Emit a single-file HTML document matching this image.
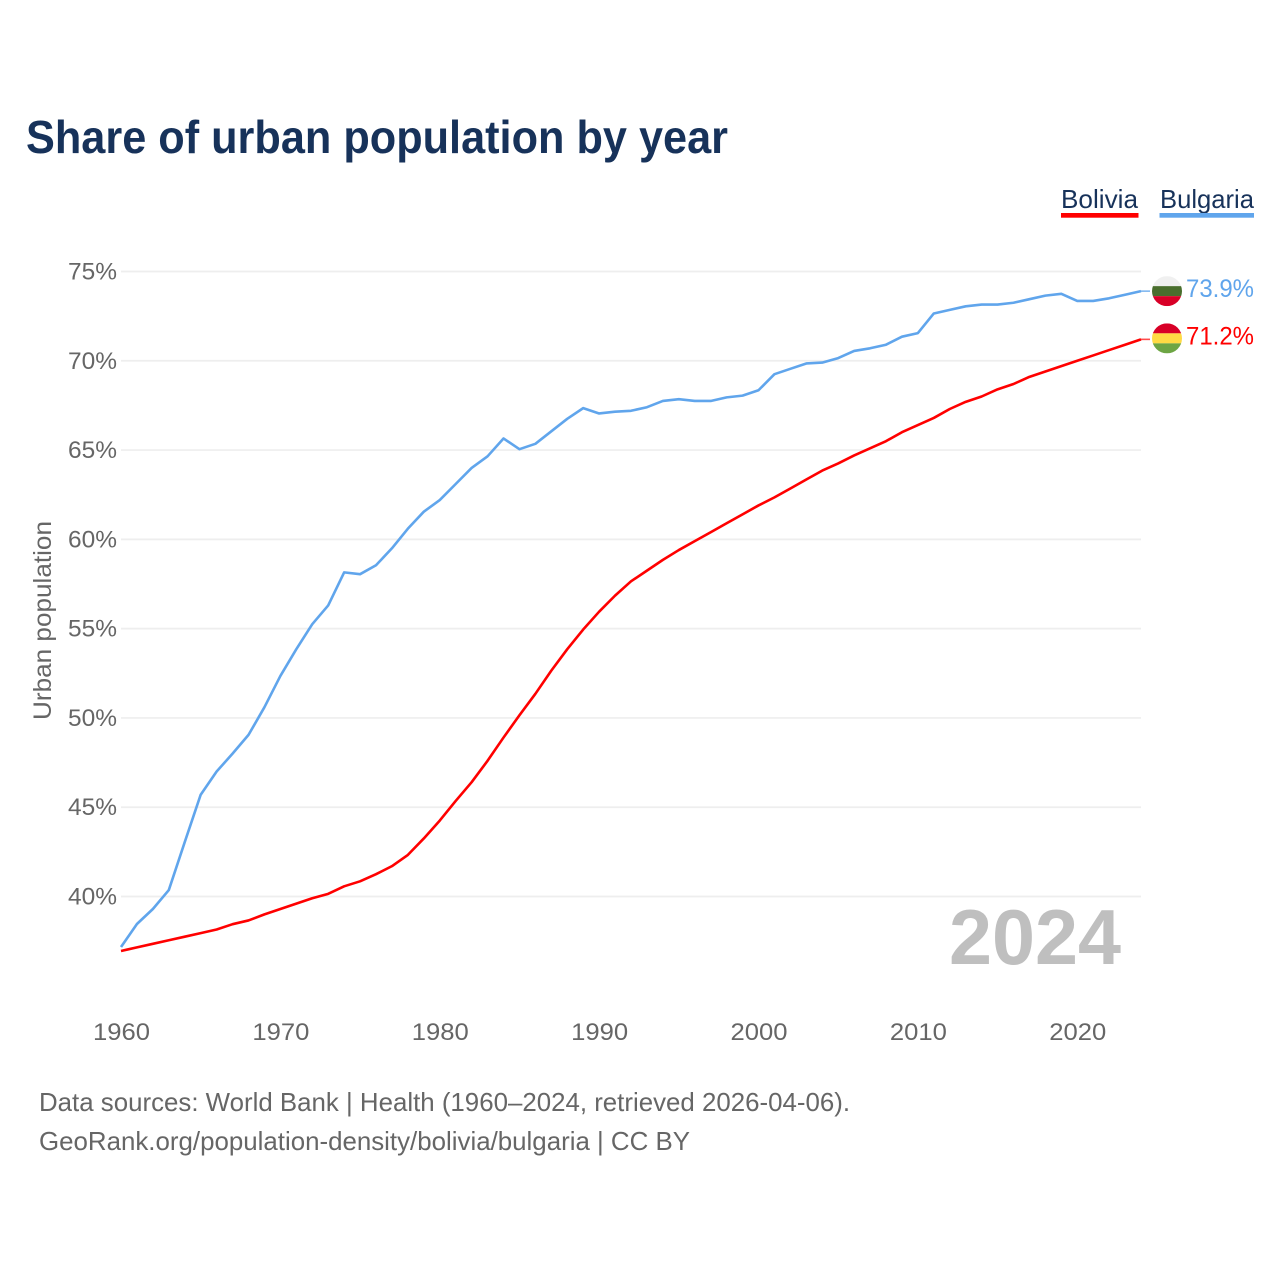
<!DOCTYPE html>
<html lang="en">
<head>
<meta charset="utf-8">
<title>Share of urban population by year</title>
<style>
html,body{margin:0;padding:0;background:#fff;}
svg{display:block;font-family:"Liberation Sans",sans-serif;}
</style>
</head>
<body>
<svg id="chart" xmlns="http://www.w3.org/2000/svg" width="1280" height="1280" viewBox="0 0 1280 1280">
  <rect x="0" y="0" width="1280" height="1280" fill="#ffffff"/>
  <text x="26" y="153" font-size="46" font-weight="700" fill="#17325a" textLength="702" lengthAdjust="spacingAndGlyphs">Share of urban population by year</text>

  <g>
    <g>
      <text x="1061" y="208" font-size="26" fill="#17325a" textLength="77" lengthAdjust="spacingAndGlyphs">Bolivia</text>
      <rect x="1061" y="213" width="77.5" height="4.7" fill="#ff0000"/>
    </g>
    <g>
      <text x="1160" y="208" font-size="26" fill="#17325a" textLength="94" lengthAdjust="spacingAndGlyphs">Bulgaria</text>
      <rect x="1159.5" y="213" width="94.5" height="4.7" fill="#60a5ec"/>
    </g>
  </g>

  <g id="grid"></g>
  <g id="y-ticks"></g>
  <g id="x-ticks"></g>
  <text transform="translate(51,620.5) rotate(-90)" text-anchor="middle" font-size="25" fill="#666666" textLength="199" lengthAdjust="spacingAndGlyphs">Urban population</text>
  <text id="year-watermark" x="949" y="964" font-size="78" font-weight="700" fill="#bfbfbf" textLength="172" lengthAdjust="spacingAndGlyphs">2024</text>

  <g id="series"></g>
  <g id="end-labels"></g>

  <defs>
    <clipPath id="clip-bg"><circle cx="1167" cy="0" r="15"/></clipPath>
    <clipPath id="clip-bo"><circle cx="1167" cy="0" r="15"/></clipPath>
  </defs>

  <text x="39" y="1111" font-size="26" fill="#666666" textLength="811" lengthAdjust="spacingAndGlyphs">Data sources: World Bank | Health (1960–2024, retrieved 2026-04-06).</text>
  <text x="39" y="1150" font-size="26" fill="#666666" textLength="651" lengthAdjust="spacingAndGlyphs">GeoRank.org/population-density/bolivia/bulgaria | CC BY</text>
</svg>
<script>
const years = [1960,1961,1962,1963,1964,1965,1966,1967,1968,1969,1970,1971,1972,1973,1974,1975,1976,1977,1978,1979,1980,1981,1982,1983,1984,1985,1986,1987,1988,1989,1990,1991,1992,1993,1994,1995,1996,1997,1998,1999,2000,2001,2002,2003,2004,2005,2006,2007,2008,2009,2010,2011,2012,2013,2014,2015,2016,2017,2018,2019,2020,2021,2022,2023,2024];
const bulgariaValues = [37.17,38.46,39.3,40.36,43.05,45.7,47.0,48.0,49.05,50.6,52.35,53.85,55.25,56.3,58.15,58.05,58.55,59.5,60.6,61.55,62.2,63.1,64.0,64.65,65.65,65.05,65.35,66.05,66.75,67.35,67.05,67.15,67.2,67.4,67.75,67.85,67.75,67.75,67.95,68.05,68.35,69.25,69.55,69.85,69.9,70.15,70.55,70.7,70.9,71.35,71.55,72.65,72.85,73.05,73.15,73.15,73.25,73.45,73.65,73.75,73.35,73.35,73.5,73.7,73.9];
const boliviaValues = [36.95,37.15,37.35,37.55,37.75,37.95,38.15,38.45,38.66,39.0,39.3,39.6,39.9,40.15,40.57,40.85,41.25,41.7,42.33,43.25,44.25,45.35,46.4,47.6,48.9,50.15,51.35,52.65,53.85,54.95,55.95,56.85,57.65,58.25,58.85,59.4,59.9,60.4,60.9,61.4,61.9,62.35,62.85,63.35,63.85,64.25,64.7,65.1,65.5,66.0,66.4,66.8,67.3,67.7,68.0,68.4,68.7,69.1,69.4,69.7,70.0,70.3,70.6,70.9,71.2];
const yTickValues = [40,45,50,55,60,65,70,75];
const xTickValues = [1960,1970,1980,1990,2000,2010,2020];

const NS = 'http://www.w3.org/2000/svg';
const xScale = function (year) { return 121 + (year - 1960) * (1141 - 121) / 64; };
const yScale = function (value) { return 896.5 - (value - 40) * (896.5 - 271.5) / 35; };

function make(tag, parent, attrs) {
  const el = document.createElementNS(NS, tag);
  for (const k in attrs) el.setAttribute(k, attrs[k]);
  parent.appendChild(el);
  return el;
}

const grid = document.getElementById('grid');
const yTicks = document.getElementById('y-ticks');
yTickValues.forEach(function (v) {
  const line = make('line', grid, {x1: 121, x2: 1141, y1: yScale(v), y2: yScale(v), stroke: '#eeeeee', 'stroke-width': 1.7});
  
  
  const label = make('text', yTicks, {x: 117, y: yScale(v) + 8, 'text-anchor': 'end', 'font-size': 24.5, fill: '#666666', textLength: 49, lengthAdjust: 'spacingAndGlyphs'});
  
  
  label.textContent = v + '%';
});

const xTicks = document.getElementById('x-ticks');
xTickValues.forEach(function (y) {
  const label = make('text', xTicks, {x: xScale(y) - 28, y: 1040, 'font-size': 24.5, fill: '#666666', textLength: 57, lengthAdjust: 'spacingAndGlyphs'});
  
  
  label.textContent = String(y);
});

function linePoints(values) {
  return values.map(function (v, i) { return xScale(years[i]).toFixed(2) + ',' + yScale(v).toFixed(2); }).join(' ');
}

const seriesGroup = document.getElementById('series');
const bulgariaLine = make('polyline', seriesGroup, {points: linePoints(bulgariaValues), fill: 'none', stroke: '#60a5ec', 'stroke-width': 2.6, 'stroke-linejoin': 'round'});


const boliviaLine = make('polyline', seriesGroup, {points: linePoints(boliviaValues), fill: 'none', stroke: '#ff0000', 'stroke-width': 2.6, 'stroke-linejoin': 'round'});



const endGroup = document.getElementById('end-labels');
const lastBg = bulgariaValues[bulgariaValues.length - 1];
const lastBo = boliviaValues[boliviaValues.length - 1];
const yBg = yScale(lastBg);
const yBo = yScale(lastBo);

const tailBg = make('line', endGroup, {x1: 1141, x2: 1150, y1: yBg, y2: yBg, stroke: '#60a5ec', 'stroke-width': 1.6, 'stroke-opacity': 0.8});


const tailBo = make('line', endGroup, {x1: 1141, x2: 1150, y1: yBo, y2: yBo, stroke: '#ff0000', 'stroke-width': 1.6, 'stroke-opacity': 0.7});



document.querySelector('#clip-bg circle').setAttribute('cy', yBg);
document.querySelector('#clip-bo circle').setAttribute('cy', yBo - 1);

const flagBg = make('g', endGroup, {'clip-path': 'url(#clip-bg)'});


make('rect', flagBg, {x: 1152, y: yBg - 15, width: 30, height: 10, fill: '#f0f0f0'});
make('rect', flagBg, {x: 1152, y: yBg - 5, width: 30, height: 10, fill: '#496e2d'});
make('rect', flagBg, {x: 1152, y: yBg + 5, width: 30, height: 10, fill: '#d80027'});

const flagBo = make('g', endGroup, {'clip-path': 'url(#clip-bo)'});


make('rect', flagBo, {x: 1152, y: yBo - 16, width: 30, height: 10, fill: '#d80027'});
make('rect', flagBo, {x: 1152, y: yBo - 6, width: 30, height: 10, fill: '#ffda44'});
make('rect', flagBo, {x: 1152, y: yBo + 4, width: 30, height: 10, fill: '#6da544'});

const labelBg = make('text', endGroup, {x: 1186, y: yBg + 6, 'font-size': 25, fill: '#60a5ec', textLength: 68, lengthAdjust: 'spacingAndGlyphs'});


labelBg.textContent = lastBg.toFixed(1) + '%';
const labelBo = make('text', endGroup, {x: 1186, y: yBo + 5, 'font-size': 25, fill: '#ff0000', textLength: 68, lengthAdjust: 'spacingAndGlyphs'});


labelBo.textContent = lastBo.toFixed(1) + '%';
</script>
</body>
</html>
